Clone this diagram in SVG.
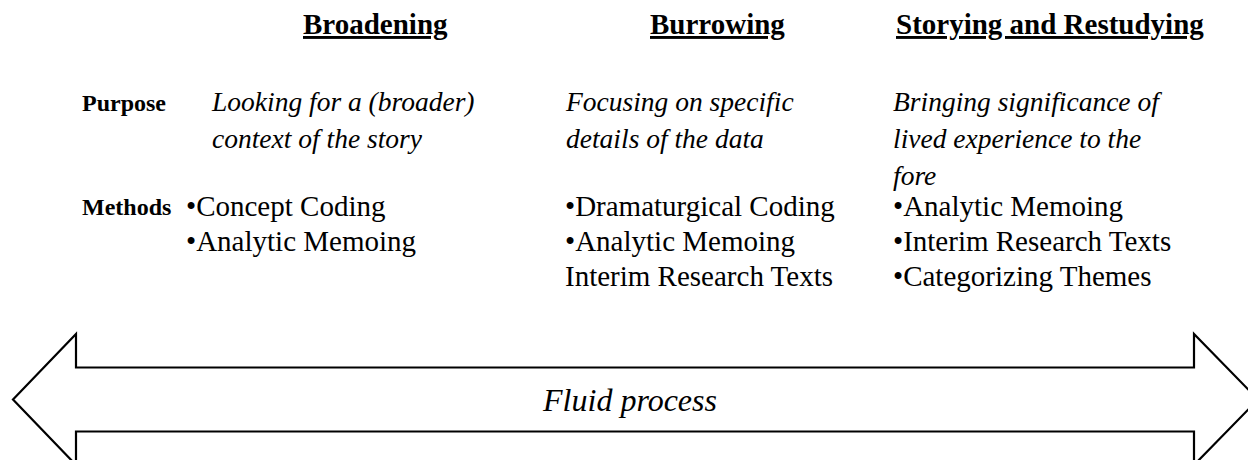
<svg xmlns="http://www.w3.org/2000/svg" width="1248" height="460" viewBox="0 0 1248 460">
<style>
text{font-family:"Liberation Serif","Times New Roman",serif;fill:#000}
.h{font-size:29px;font-weight:bold;text-decoration:underline}
.l{font-size:24px;font-weight:bold}
.i{font-size:27.5px;font-style:italic}
.m{font-size:29px}
.f{font-size:32px;font-style:italic}
</style>
<rect width="1248" height="460" fill="#fff"/>
<g id="connectors">
<path d="M13,399.5 L76,334 L76,367.5 L1194,367.5 L1194,334 L1258,399.5 L1194,465 L1194,431.5 L76,431.5 L76,465 Z" fill="#fff" stroke="#000" stroke-width="2.2"/>
<text class="f" x="630" y="411" text-anchor="middle">Fluid process</text>
</g>
<g id="head-broadening"><text class="h" x="303" y="34">Broadening</text></g>
<g id="head-burrowing"><text class="h" x="650" y="34">Burrowing</text></g>
<g id="head-storying"><text class="h" x="896" y="34">Storying and Restudying</text></g>
<g id="label-purpose"><text class="l" x="82" y="111">Purpose</text></g>
<g id="label-methods"><text class="l" x="82" y="215">Methods</text></g>
<g id="purpose-broadening"><text class="i" x="212" y="111">Looking for a (broader)</text><text class="i" x="212" y="148">context of the story</text></g>
<g id="purpose-burrowing"><text class="i" x="566" y="111">Focusing on specific</text><text class="i" x="566" y="148">details of the data</text></g>
<g id="purpose-storying"><text class="i" x="893" y="111">Bringing significance of</text><text class="i" x="893" y="148">lived experience to the</text><text class="i" x="893" y="185">fore</text></g>
<g id="methods-broadening"><text class="m" x="186" y="216">•Concept Coding</text><text class="m" x="186" y="251">•Analytic Memoing</text></g>
<g id="methods-burrowing"><text class="m" x="565" y="216">•Dramaturgical Coding</text><text class="m" x="565" y="251">•Analytic Memoing</text><text class="m" x="565" y="286">Interim Research Texts</text></g>
<g id="methods-storying"><text class="m" x="893" y="216">•Analytic Memoing</text><text class="m" x="893" y="251">•Interim Research Texts</text><text class="m" x="893" y="286">•Categorizing Themes</text></g>
</svg>
